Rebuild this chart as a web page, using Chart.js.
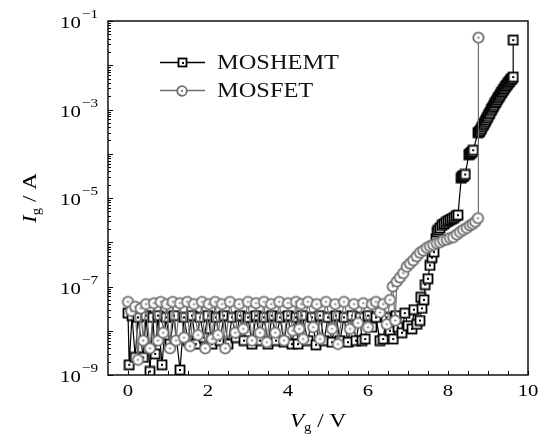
<!DOCTYPE html>
<html>
<head>
<meta charset="utf-8">
<script src="https://cdn.jsdelivr.net/npm/chart.js@4.4.1/dist/chart.umd.min.js"></script>
<style>
  html, body { margin: 0; padding: 0; background: #fff; }
  #wrap { width: 540px; height: 436px; }
</style>
</head>
<body>
<div id="wrap"><canvas id="c" width="540" height="436"></canvas></div>
<script>
// Gate current vs gate voltage for the two devices
const seriesNames = ['MOSHEMT', 'MOSFET'];

// MOSHEMT sweep: gate voltage (V)
const hemtVg = [
  0.00, 0.03, 0.10, 0.18, 0.25, 0.38, 0.45, 0.55, 0.62, 0.68,
  0.75, 0.85, 0.95, 1.05, 1.15, 1.30, 1.40, 1.50, 1.60, 1.70,
  1.80, 1.90, 2.00, 2.10, 2.20, 2.30, 2.40, 2.50, 2.60, 2.70,
  2.80, 2.90, 3.00, 3.10, 3.20, 3.30, 3.40, 3.50, 3.60, 3.70,
  3.80, 3.90, 4.00, 4.10, 4.20, 4.25, 4.35, 4.50, 4.60, 4.70,
  4.80, 4.90, 5.00, 5.10, 5.20, 5.30, 5.40, 5.50, 5.60, 5.70,
  5.80, 5.85, 5.93, 6.00, 6.10, 6.20, 6.30, 6.38, 6.45, 6.55,
  6.63, 6.70, 6.75, 6.85, 6.92, 7.00, 7.10, 7.15, 7.22, 7.30,
  7.32, 7.35, 7.40, 7.43, 7.50, 7.55, 7.60, 7.65, 7.70, 7.73,
  7.76, 7.80, 7.85, 7.90, 7.95, 8.00, 8.05, 8.10, 8.15, 8.20,
  8.25, 8.33, 8.35, 8.37, 8.40, 8.43, 8.52, 8.55, 8.58, 8.60,
  8.63, 8.75, 8.78, 8.80, 8.83, 8.85, 8.88, 8.90, 8.93, 8.95,
  8.98, 9.00, 9.03, 9.05, 9.08, 9.10, 9.13, 9.15, 9.18, 9.20,
  9.23, 9.25, 9.28, 9.30, 9.33, 9.35, 9.38, 9.40, 9.43, 9.45,
  9.48, 9.50, 9.53, 9.55, 9.58, 9.60, 9.63, 9.63
];
// MOSHEMT sweep: gate current (A)
const hemtIg = [
  2.5e-8, 1.7e-9, 2.2e-8, 2.5e-9, 2.0e-8, 2.5e-9, 2.2e-8, 1.2e-9, 2.0e-8, 3.0e-9,
  2.2e-8, 1.7e-9, 2.0e-8, 5.0e-9, 2.2e-8, 1.3e-9, 2.0e-8, 6.0e-9, 2.2e-8, 5.0e-9,
  2.0e-8, 7.0e-9, 2.2e-8, 5.0e-9, 2.0e-8, 6.0e-9, 2.2e-8, 5.0e-9, 2.0e-8, 7.0e-9,
  2.2e-8, 6.0e-9, 2.0e-8, 5.0e-9, 2.2e-8, 6.0e-9, 2.0e-8, 5.0e-9, 2.2e-8, 6.0e-9,
  2.0e-8, 5.5e-9, 2.2e-8, 5.0e-9, 2.0e-8, 5.0e-9, 2.2e-8, 6.0e-9, 2.0e-8, 4.8e-9,
  2.2e-8, 6.0e-9, 2.0e-8, 5.5e-9, 2.2e-8, 6.0e-9, 2.0e-8, 5.5e-9, 2.2e-8, 6.0e-9,
  2.0e-8, 6.0e-9, 6.5e-9, 2.2e-8, 1.2e-8, 2.0e-8, 6.0e-9, 6.5e-9, 2.0e-8, 1.0e-8,
  6.5e-9, 2.2e-8, 1.2e-8, 9.0e-9, 2.5e-8, 1.3e-8, 1.1e-8, 3.0e-8, 1.4e-8, 1.7e-8,
  5.7e-8, 3.2e-8, 5.0e-8, 1.1e-7, 1.5e-7, 3.0e-7, 4.5e-7, 6.0e-7, 1.2e-6, 1.7e-6,
  1.9e-6, 2.1e-6, 2.4e-6, 2.6e-6, 2.8e-6, 3.0e-6, 3.2e-6, 3.4e-6, 3.6e-6, 3.9e-6,
  4.1e-6, 2.8e-5, 3.0e-5, 3.1e-5, 3.2e-5, 3.4e-5, 9.5e-5, 1.0e-4, 1.05e-4, 1.1e-4,
  1.2e-4, 3.0e-4, 3.1e-4, 3.3e-4, 3.6e-4, 4.0e-4, 4.4e-4, 4.8e-4, 5.3e-4, 5.8e-4,
  6.4e-4, 7.0e-4, 7.8e-4, 8.5e-4, 9.5e-4, 1.05e-3, 1.15e-3, 1.25e-3, 1.4e-3, 1.5e-3,
  1.65e-3, 1.8e-3, 1.95e-3, 2.1e-3, 2.3e-3, 2.5e-3, 2.7e-3, 2.9e-3, 3.15e-3, 3.4e-3,
  3.65e-3, 3.9e-3, 4.2e-3, 4.5e-3, 4.8e-3, 5.0e-3, 5.4e-3, 3.7e-2
];

// MOSFET sweep: gate voltage (V)
const fetVg = [
  0.00, 0.08, 0.18, 0.25, 0.32, 0.38, 0.45, 0.55, 0.65, 0.75,
  0.82, 0.88, 0.97, 1.05, 1.12, 1.20, 1.30, 1.40, 1.48, 1.55,
  1.65, 1.75, 1.85, 1.93, 2.02, 2.10, 2.18, 2.25, 2.35, 2.43,
  2.55, 2.68, 2.78, 2.88, 3.00, 3.10, 3.20, 3.30, 3.40, 3.47,
  3.58, 3.68, 3.78, 3.90, 4.00, 4.12, 4.20, 4.28, 4.33, 4.38,
  4.50, 4.63, 4.72, 4.80, 4.95, 5.10, 5.18, 5.25, 5.40, 5.55,
  5.65, 5.75, 5.88, 6.00, 6.10, 6.20, 6.30, 6.38, 6.47, 6.55,
  6.62, 6.68, 6.72, 6.80, 6.88, 6.97, 7.05, 7.13, 7.22, 7.30,
  7.38, 7.47, 7.55, 7.63, 7.72, 7.80, 7.88, 7.97, 8.05, 8.13,
  8.22, 8.30, 8.38, 8.47, 8.55, 8.62, 8.68, 8.75, 8.76
];
// MOSFET sweep: gate current (A)
const fetIg = [
  4.5e-8, 2.8e-8, 3.5e-8, 2.2e-9, 3.2e-8, 6.0e-9, 4.0e-8, 4.0e-9, 4.2e-8, 6.0e-9,
  4.5e-8, 9.0e-9, 4.0e-8, 4.0e-9, 4.5e-8, 6.0e-9, 4.2e-8, 7.0e-9, 4.5e-8, 4.5e-9,
  4.0e-8, 8.0e-9, 4.5e-8, 4.0e-9, 4.0e-8, 6.5e-9, 4.5e-8, 8.0e-9, 4.0e-8, 4.0e-9,
  4.5e-8, 9.0e-9, 4.0e-8, 1.1e-8, 4.5e-8, 6.0e-9, 4.2e-8, 9.0e-9, 4.5e-8, 5.5e-9,
  4.0e-8, 9.0e-9, 4.5e-8, 6.0e-9, 4.2e-8, 1.0e-8, 4.5e-8, 1.1e-8, 4.0e-8, 6.5e-9,
  4.5e-8, 1.2e-8, 4.0e-8, 6.5e-9, 4.5e-8, 1.1e-8, 4.0e-8, 5.0e-9, 4.5e-8, 1.1e-8,
  4.0e-8, 1.5e-8, 4.2e-8, 1.2e-8, 4.0e-8, 4.5e-8, 2.6e-8, 4.0e-8, 1.4e-8, 5.0e-8,
  1.0e-7, 1.7e-8, 1.3e-7, 1.6e-7, 2.0e-7, 2.8e-7, 3.3e-7, 3.9e-7, 4.8e-7, 5.8e-7,
  6.5e-7, 7.5e-7, 8.2e-7, 8.8e-7, 9.5e-7, 1.0e-6, 1.1e-6, 1.15e-6, 1.25e-6, 1.3e-6,
  1.5e-6, 1.7e-6, 1.9e-6, 2.1e-6, 2.4e-6, 2.6e-6, 2.9e-6, 3.5e-6, 4.2e-2
];

// Axis ticks
const xTickLabels = [0, 2, 4, 6, 8, 10];
const xMinorStep = 0.5;
const yTickExponents = [-1, -3, -5, -7, -9];
const yDecadeExponents = [-1, -2, -3, -4, -5, -6, -7, -8, -9];
const yMinorFactors = [2, 3, 4, 5, 6, 7, 8, 9];

const SERIF = '"Liberation Serif", "Times New Roman", serif';
const SX = 1.22; // horizontal widening of the serif glyphs

// Marker images: open square and open circle, each with a centre dot
function squareMark(color, size) {
  const c = document.createElement('canvas');
  c.width = size + 3; c.height = size + 3;
  const g = c.getContext('2d');
  const o = 1.5;
  g.fillStyle = '#fff';
  g.fillRect(o, o, size, size);
  g.strokeStyle = color; g.lineWidth = 1.8;
  g.strokeRect(o, o, size, size);
  g.fillStyle = color;
  const m = (size + 3) / 2;
  g.fillRect(Math.round(m - 1), Math.round(m - 1), 2, 2);
  return c;
}
function circleMark(color, r) {
  const s = Math.ceil(2 * r + 4);
  const c = document.createElement('canvas');
  c.width = s; c.height = s;
  const g = c.getContext('2d');
  g.beginPath(); g.arc(s / 2, s / 2, r, 0, Math.PI * 2);
  g.fillStyle = '#fff'; g.fill();
  g.strokeStyle = color; g.lineWidth = 1.8; g.stroke();
  g.beginPath(); g.arc(s / 2, s / 2, 1.1, 0, Math.PI * 2);
  g.fillStyle = color; g.fill();
  return c;
}

const HEMT_COLOR = '#000000';
const FET_COLOR = '#6e6e6e';
const hemtMark = squareMark(HEMT_COLOR, 9);
const fetMark = circleMark(FET_COLOR, 5.2);
const hemtLegendMark = squareMark(HEMT_COLOR, 8);
const fetLegendMark = circleMark(FET_COLOR, 4.8);

function pairs(xs, ys) { return xs.map((x, i) => ({ x: x, y: ys[i] })); }

// Draw text widened horizontally
function wideText(ctx, txt, x, y, align) {
  ctx.save();
  ctx.translate(x, y);
  ctx.scale(SX, 1);
  ctx.textAlign = align;
  ctx.fillText(txt, 0, 0);
  ctx.restore();
}
// Draw a run of text pieces (each with own font and vertical offset) centred at cx
function richText(ctx, parts, cx, cy) {
  let total = 0;
  parts.forEach(p => { ctx.font = p.font; p.w = ctx.measureText(p.t).width * SX; total += p.w; });
  let x = cx - total / 2;
  parts.forEach(p => {
    ctx.font = p.font;
    ctx.save();
    ctx.translate(x, cy + (p.dy || 0));
    ctx.scale(SX, 1);
    ctx.textAlign = 'left';
    ctx.fillText(p.t, 0, 0);
    ctx.restore();
    x += p.w;
  });
}

const decorations = {
  id: 'decorations',
  afterDatasetsDraw(chart) {
    const ctx = chart.ctx;
    const a = chart.chartArea;
    const xs = chart.scales.x, ys = chart.scales.y;
    ctx.save();
    ctx.strokeStyle = '#000';
    ctx.lineWidth = 1;
    // inward ticks on the bottom axis
    ctx.beginPath();
    for (let v = 0; v <= 10 + 1e-9; v += xMinorStep) {
      const px = Math.round(xs.getPixelForValue(v)) + 0.5;
      ctx.moveTo(px, a.bottom);
      ctx.lineTo(px, a.bottom - 4);
    }
    // inward ticks on the left axis: decades and minor
    yDecadeExponents.forEach(e => {
      const py = Math.round(ys.getPixelForValue(Math.pow(10, e))) + 0.5;
      ctx.moveTo(a.left, py); ctx.lineTo(a.left + 5, py);
    });
    yDecadeExponents.forEach(e => {
      if (e === -1) return;
      yMinorFactors.forEach(f => {
        const py = Math.round(ys.getPixelForValue(f * Math.pow(10, e))) + 0.5;
        ctx.moveTo(a.left, py); ctx.lineTo(a.left + 3, py);
      });
    });
    ctx.stroke();
    // frame
    ctx.lineWidth = 1.4;
    ctx.strokeRect(a.left, a.top, a.right - a.left, a.bottom - a.top);
    ctx.restore();
  },
  afterDraw(chart) {
    const ctx = chart.ctx;
    const a = chart.chartArea;
    const xs = chart.scales.x, ys = chart.scales.y;
    const ds = chart.data.datasets;
    ctx.save();
    ctx.fillStyle = '#000';
    ctx.textBaseline = 'alphabetic';
    // x tick labels
    ctx.font = '17px ' + SERIF;
    xTickLabels.forEach(v => {
      wideText(ctx, String(v), xs.getPixelForValue(v), a.bottom + 21, 'center');
    });
    // y tick labels as 10 with a raised exponent
    yTickExponents.forEach(e => {
      const py = ys.getPixelForValue(Math.pow(10, e));
      const right = a.left - 10;
      ctx.font = '12.5px ' + SERIF;
      const expTxt = '\u2212' + String(-e);
      const expW = ctx.measureText(expTxt).width * SX;
      wideText(ctx, expTxt, right, py - 3, 'right');
      ctx.font = '17px ' + SERIF;
      wideText(ctx, '10', right - expW - 1, py + 7, 'right');
    });
    // axis titles
    richText(ctx, [
      { t: 'V', font: 'italic 19px ' + SERIF },
      { t: 'g', font: '12px ' + SERIF, dy: 4 },
      { t: ' / V', font: '19px ' + SERIF }
    ], (a.left + a.right) / 2, 427);
    ctx.save();
    ctx.translate(30, (a.top + a.bottom) / 2);
    ctx.rotate(-Math.PI / 2);
    richText(ctx, [
      { t: 'I', font: 'italic 19px ' + SERIF },
      { t: 'g', font: '12px ' + SERIF, dy: 4 },
      { t: ' / A', font: '19px ' + SERIF }
    ], 0, 6);
    ctx.restore();
    // legend
    const rows = [
      { y: 62, ds: ds[0], mark: hemtLegendMark },
      { y: 90, ds: ds[1], mark: fetLegendMark }
    ];
    rows.forEach(r => {
      ctx.strokeStyle = r.ds.borderColor;
      ctx.lineWidth = 1.3;
      ctx.beginPath();
      ctx.moveTo(160, r.y + 0.5); ctx.lineTo(205, r.y + 0.5);
      ctx.stroke();
      ctx.drawImage(r.mark, Math.round(182 - r.mark.width / 2), Math.round(r.y + 0.5 - r.mark.height / 2));
      ctx.fillStyle = '#111';
      ctx.font = '20px ' + SERIF;
      wideText(ctx, r.ds.label, 217, r.y + 7, 'left');
    });
    ctx.restore();
  }
};

new Chart(document.getElementById('c').getContext('2d'), {
  type: 'scatter',
  data: {
    datasets: [
      {
        label: seriesNames[0],
        data: pairs(hemtVg, hemtIg),
        showLine: true,
        borderColor: HEMT_COLOR,
        borderWidth: 1.2,
        pointStyle: hemtMark,
        pointRadius: 5,
        order: 1
      },
      {
        label: seriesNames[1],
        data: pairs(fetVg, fetIg),
        showLine: true,
        borderColor: FET_COLOR,
        borderWidth: 1.2,
        pointStyle: fetMark,
        pointRadius: 5,
        order: 0
      }
    ]
  },
  options: {
    responsive: false,
    animation: false,
    devicePixelRatio: 1,
    layout: { padding: { left: 0, right: 12, top: 21, bottom: 0 } },
    plugins: { legend: { display: false }, tooltip: { enabled: false } },
    scales: {
      x: {
        type: 'linear', min: -0.5, max: 10,
        grid: { display: false }, border: { display: false },
        ticks: { display: false },
        afterFit(s) { s.height = 61; }
      },
      y: {
        type: 'logarithmic', min: 1e-9, max: 1e-1,
        grid: { display: false }, border: { display: false },
        ticks: { display: false },
        afterFit(s) { s.width = 108; }
      }
    }
  },
  plugins: [decorations]
});
</script>
</body>
</html>
